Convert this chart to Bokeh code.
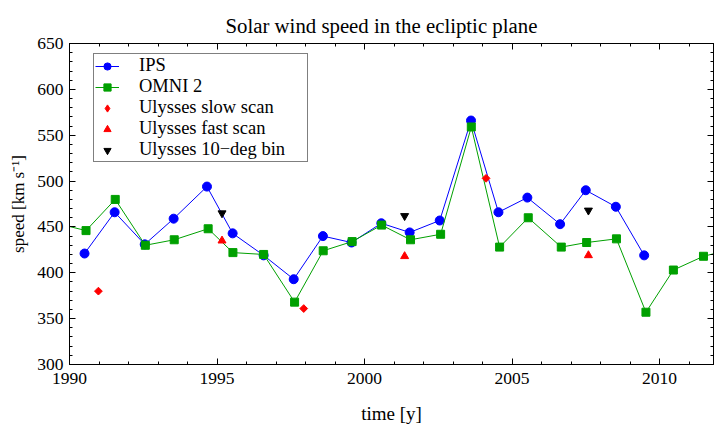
from bokeh.plotting import figure
from bokeh.models import (Range1d, LinearAxis, SingleIntervalTicker, Legend,
                          LegendItem, CustomJSTickFormatter)
from bokeh.embed import file_html
from bokeh.resources import INLINE
import math

# ---- data ----
ips_year = [1990.51, 1991.53, 1992.55, 1993.53, 1994.66, 1995.53, 1996.58,
            1997.60, 1998.59, 1999.56, 2000.57, 2001.53, 2002.55, 2003.61,
            2004.54, 2005.52, 2006.63, 2007.50, 2008.52, 2009.48]
ips_speed = [421, 466, 431, 459, 494, 443, 419, 393, 440, 433, 454, 444,
             457, 566, 466, 482, 453, 490, 472, 419]

omni_year = [1989.55, 1990.56, 1991.55, 1992.57, 1993.55, 1994.70, 1995.54,
             1996.58, 1997.63, 1998.60, 1999.58, 2000.58, 2001.56, 2002.58,
             2003.62, 2004.58, 2005.55, 2006.67, 2007.53, 2008.54, 2009.54,
             2010.47, 2011.49, 2012.50]
omni_speed = [454, 446, 480, 430, 436, 448, 422, 420, 368, 424, 434, 452,
              436, 442, 559, 428, 460, 428, 433, 437, 357, 403, 418, 426]

slow_year = [1990.98, 1997.94, 2004.12]
slow_speed = [380, 361, 503]

fast_year = [1995.17, 2001.36, 2007.59]
fast_speed = [435, 418, 419]

bin_year = [1995.17, 2001.36, 2007.59]
bin_speed = [465, 462, 468]

x_lim = (1990, 2011.83)
y_lim = (300, 650)
x_tick_step = 5
y_tick_step = 50

FONT = "Liberation Serif"
BLUE = "#0000ff"
GREEN = "#00a000"
RED = "#ff0000"

W, H = 715, 426
BL, BR, BT, BB = 69, 2, 43, 61          # borders -> frame position

p = figure(width=W, height=H, output_backend="svg", toolbar_location=None,
           x_range=Range1d(*x_lim), y_range=Range1d(*y_lim),
           min_border_left=BL, min_border_right=BR, min_border_top=BT,
           min_border_bottom=BB, x_axis_label="time [y]",
           y_axis_label="speed [km s\u207b\u00b9]")
p.grid.visible = False
p.outline_line_color = "black"
p.background_fill_color = "white"
p.border_fill_color = "white"

p.title.text = "Solar wind speed in the ecliptic plane"
p.title.align = "left"
p.title.vertical_align = "top"
p.title.offset = 156
p.title.standoff = 10
p.title.text_font = FONT
p.title.text_font_size = "20.8px"
p.title.text_font_style = "normal"
p.title.text_color = "black"


def style_axis(ax, labels=True):
    ax.axis_line_color = "black"
    ax.major_tick_in = 6
    ax.major_tick_out = 0
    ax.minor_tick_in = 3
    ax.minor_tick_out = 0
    ax.major_tick_line_color = "black"
    ax.minor_tick_line_color = "black"
    ax.major_label_text_font = FONT
    ax.major_label_text_font_size = "17.5px"
    ax.major_label_text_color = "black"
    ax.axis_label_text_font = FONT
    ax.axis_label_text_font_size = "19px"
    ax.axis_label_text_font_style = "normal"
    ax.axis_label_text_color = "black"
    if not labels:
        ax.formatter = CustomJSTickFormatter(code="return ''")
        ax.major_label_text_font_size = "0px"
        ax.major_label_standoff = 0


p.xaxis.ticker = SingleIntervalTicker(interval=x_tick_step, num_minor_ticks=5)
p.yaxis.ticker = SingleIntervalTicker(interval=y_tick_step, num_minor_ticks=5)
for ax in p.xaxis:
    style_axis(ax)
    ax.major_label_standoff = 8
    ax.axis_label_standoff = 16
for ax in p.yaxis:
    style_axis(ax)
    ax.major_label_standoff = 6
    ax.axis_label_standoff = 6
    ax.axis_label_text_font_size = "17px"

top = LinearAxis(ticker=SingleIntervalTicker(interval=x_tick_step, num_minor_ticks=5))
right = LinearAxis(ticker=SingleIntervalTicker(interval=y_tick_step, num_minor_ticks=5))
style_axis(top, labels=False)
style_axis(right, labels=False)
p.add_layout(top, "above")
p.add_layout(right, "right")

# ---- series ----
ips_l = p.line(ips_year, ips_speed, line_color=BLUE, line_width=1)
ips_m = p.scatter(ips_year, ips_speed, marker="circle", size=9,
                  fill_color=BLUE, line_color=BLUE)

om_l = p.line(omni_year, omni_speed, line_color=GREEN, line_width=1)
om_m = p.scatter(omni_year, omni_speed, marker="square", size=8,
                 fill_color=GREEN, line_color=GREEN)

sl_m = p.scatter(slow_year, slow_speed, marker="square", size=5.5,
                 angle=math.pi / 4, fill_color=RED, line_color=RED)
# legend-only swatch for the rotated-square marker
sl_leg = p.scatter([float("nan")], [float("nan")], marker="diamond", size=9,
                   fill_color=RED, line_color=RED)
fa_m = p.scatter(fast_year, fast_speed, marker="triangle", size=8,
                 fill_color=RED, line_color=RED)
bi_m = p.scatter(bin_year, bin_speed, marker="inverted_triangle", size=8,
                 fill_color="black", line_color="black")

legend = Legend(items=[
    LegendItem(label="IPS", renderers=[ips_l, ips_m]),
    LegendItem(label="OMNI 2", renderers=[om_l, om_m]),
    LegendItem(label="Ulysses slow scan", renderers=[sl_leg]),
    LegendItem(label="Ulysses fast scan", renderers=[fa_m]),
    LegendItem(label="Ulysses 10\u2212deg bin", renderers=[bi_m]),
], location=(24, 202))
legend.label_text_font = FONT
legend.label_text_font_size = "18.5px"
legend.label_text_color = "black"
legend.border_line_color = "black"
legend.border_line_width = 1
legend.background_fill_color = "white"
legend.background_fill_alpha = 1
legend.padding = 1
legend.margin = 0
legend.spacing = 0
legend.glyph_width = 24
legend.glyph_height = 18
legend.label_height = 18
legend.label_standoff = 20
legend.label_width = 167
p.add_layout(legend, "center")

open("out.html", "w").write(file_html(p, INLINE))
